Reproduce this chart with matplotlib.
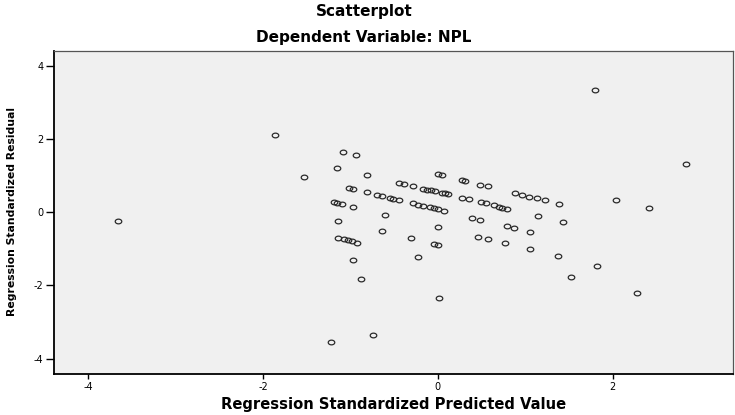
import numpy as np
import matplotlib
matplotlib.use("Agg")
import matplotlib.pyplot as plt
from matplotlib.path import Path

# Regression standardized predicted values (x) and residuals (y)
pred = [-3.661, -1.865, -1.090, -0.935, -1.148, -1.530, -0.809, -1.022, -0.969, -0.812,
        -0.695, -0.637, -0.549, -0.518, -0.446, -0.450, -0.392, -0.286,
        -0.166, -0.120, -0.080, -0.034, 0.046, 0.080, 0.120, 0.000, 0.046,
        -1.186, -1.148, -1.102, -0.976,
        -0.289, -0.232, -0.175, -0.092, -0.046, 0.003, 0.071,
        -1.141, -0.606, 0.000, -0.637,
        -1.144, -1.072, -1.033, -0.987, -0.930, -0.312, -0.049, 0.003,
        0.271, 0.312, 0.481, 0.569, 0.271, 0.355,
        0.489, 0.546, 0.641, 0.695, 0.732, 0.793,
        0.881, 0.963, 1.041, 1.129, 1.222, 1.390,
        0.392, 0.481, 1.144, 1.428, 0.786, 0.872, 1.053, 0.460, 0.572, 0.763,
        1.793, 2.834, 2.037, 2.414, 1.053, 1.376, 1.819, 1.522, 2.277, 0.011,
        -0.969, -0.884, -0.229, -0.744, -1.224]
resid = [-0.237, 2.093, 1.646, 1.564, 1.200, 0.946, 1.001, 0.647, 0.619, 0.538,
         0.456, 0.428, 0.382, 0.363, 0.319, 0.799, 0.772, 0.701,
         0.628, 0.608, 0.592, 0.573, 0.518, 0.510, 0.483, 1.029, 1.001,
         0.273, 0.254, 0.226, 0.145,
         0.237, 0.199, 0.164, 0.128, 0.109, 0.090, 0.027,
         -0.237, -0.074, -0.409, -0.527,
         -0.718, -0.745, -0.764, -0.791, -0.838, -0.709, -0.873, -0.900,
         0.873, 0.846, 0.745, 0.701, 0.390, 0.347,
         0.273, 0.237, 0.183, 0.145, 0.117, 0.090,
         0.513, 0.464, 0.423, 0.377, 0.319, 0.226,
         -0.164, -0.218, -0.115, -0.278, -0.390, -0.445, -0.546, -0.682, -0.745, -0.854,
         3.348, 1.310, 0.327, 0.117, -1.018, -1.209, -1.465, -1.774, -2.202, -2.333,
         -1.302, -1.828, -1.236, -3.348, -3.547]

xticks = [-4, -2, 0, 2]
yticks = [-4, -2, 0, 2, 4]

fig = plt.figure(figsize=(7.35, 4.15), dpi=100)
ax = fig.add_axes([54/735, 1-374/415, (733-54)/735, (374-51)/415])
ax.set_facecolor("#F0F0F0")

# slightly wide ellipse marker (reference is horizontally stretched)
t = np.linspace(0, 2*np.pi, 49)
ell = Path(np.column_stack([np.cos(t), 0.72*np.sin(t)]), closed=True)

ax.plot(pred, resid, linestyle="none", marker=ell, markersize=4.7,
        markerfacecolor="none", markeredgecolor="#2a2a2a", markeredgewidth=0.9)

ax.set_xlim(-4.39, 3.375)
ax.set_ylim(-4.42, 4.40)
ax.set_xticks(xticks)
ax.set_yticks(yticks)
ax.set_xticklabels([str(v) for v in xticks])
ax.set_yticklabels([str(v) for v in yticks])
ax.tick_params(axis="x", direction="out", length=3.6, width=1.0, pad=2,
               labelsize=7, colors="black")
ax.tick_params(axis="y", direction="out", length=5.5, width=1.0, pad=2,
               labelsize=7, colors="black")
ax.tick_params(top=False, right=False)

for s in ["left", "bottom"]:
    ax.spines[s].set_color("black")
    ax.spines[s].set_linewidth(1.3)
for s in ["top", "right"]:
    ax.spines[s].set_color("#555555")
    ax.spines[s].set_linewidth(0.9)

fig.text(364/735, 1-16/415, "Scatterplot", ha="center", va="baseline",
         fontsize=11, fontweight="bold", family="DejaVu Sans")
fig.text(364/735, 1-42/415, "Dependent Variable: NPL", ha="center", va="baseline",
         fontsize=11, fontweight="bold", family="DejaVu Sans")
fig.text(393.5/735, 1-409/415, "Regression Standardized Predicted Value",
         ha="center", va="baseline", fontsize=10.6, fontweight="bold", family="DejaVu Sans")
fig.text(11.7/735, 1-211/415, "Regression Standardized Residual", rotation=90,
         ha="center", va="center", fontsize=7.8, fontweight="bold", family="DejaVu Sans")

fig.savefig("out.png", dpi=100)
